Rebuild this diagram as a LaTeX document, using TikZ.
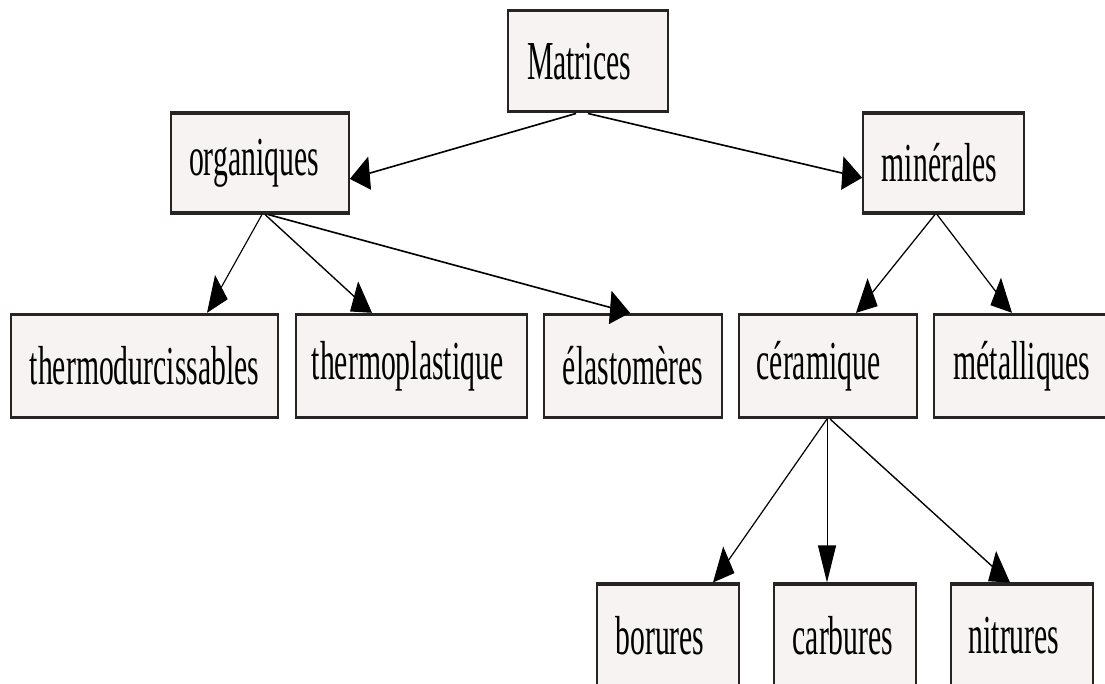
\documentclass[tikz,border=0pt]{standalone}
\usepackage{fontspec}
\setmainfont{Liberation Serif}
\usetikzlibrary{arrows.meta}
\definecolor{boxfill}{RGB}{247,243,242}
\definecolor{boxline}{RGB}{40,36,36}
\newcommand{\lsh}[1]{\hspace*{#1}}
\tikzset{
  box/.style={draw=boxline, fill=boxfill, line width=1.7pt, inner sep=0pt,
    minimum height=54pt, font=\fontsize{29.7}{32}\selectfont, text=black},
  conn/.style={draw=black, line width=0.9pt,
    -{Triangle[length=20pt,width=18pt]}},
}
\begin{document}
\begin{tikzpicture}[x=1pt,y=1pt]
\useasboundingbox[fill=white] (0,0) rectangle (1105,-684);
\begin{scope}[transform canvas={yscale=1.85}]
% row 0
\node[box, minimum width=160pt, minimum height=54.6pt] (mat) at (588,-33.2) {Matrices\lsh{18pt}};
% row 1
\node[box, minimum width=178pt] (org) at (260,-88.1) {organiques\lsh{12pt}};
\node[box, minimum width=161pt] (min) at (943.5,-88.1) {minérales\lsh{8pt}};
% row 2
\node[box, minimum width=267pt, minimum height=55.7pt] (thd) at (144.5,-197.8) {thermodurcissables};
\node[box, minimum width=231pt, minimum height=55.7pt] (thp) at (411.5,-197.8) {thermoplastique\lsh{8pt}};
\node[box, minimum width=178pt, minimum height=55.7pt] (ela) at (633,-197.8) {élastomères};
\node[box, minimum width=178pt, minimum height=55.7pt] (cer) at (828,-197.8) {céramique\lsh{19pt}};
\node[box, minimum width=176pt, minimum height=55.7pt] (met) at (1022,-197.8) {métalliques};
% row 3
\node[box, minimum width=142pt, minimum height=56.2pt] (bor) at (668,-343.8) {borures\lsh{16pt}};
\node[box, minimum width=142pt, minimum height=56.2pt] (car) at (845,-343.8) {carbures\lsh{4pt}};
\node[box, minimum width=142pt, minimum height=56.2pt] (nit) at (1022,-343.8) {nitrures\lsh{16pt}};
% connectors
\draw[conn] ([xshift=-12pt]mat.south) -- ([yshift=-8.6pt]org.east);
\draw[conn] ([xshift=0pt]mat.south) -- ([yshift=-8pt]min.west);
\draw[conn] ([xshift=2pt]org.south) -- ([xshift=62.5pt]thd.north);
\draw[conn] ([xshift=5pt]org.south) -- ([xshift=-39.5pt]thp.north);
\draw[conn] ([xshift=8pt]org.south) -- ([xshift=-3pt]ela.north);
\draw[conn] ([xshift=-8.5pt]min.south) -- ([xshift=28pt]cer.north);
\draw[conn] ([xshift=-6.5pt]min.south) -- ([xshift=-10pt]met.north);
\draw[conn] ([xshift=-1pt]cer.south) -- ([xshift=45pt]bor.north);
\draw[conn] ([xshift=-1pt]cer.south) -- ([xshift=-18pt]car.north);
\draw[conn] ([xshift=2pt]cer.south) -- ([xshift=-12pt]nit.north);
\end{scope}
\end{tikzpicture}
\end{document}
